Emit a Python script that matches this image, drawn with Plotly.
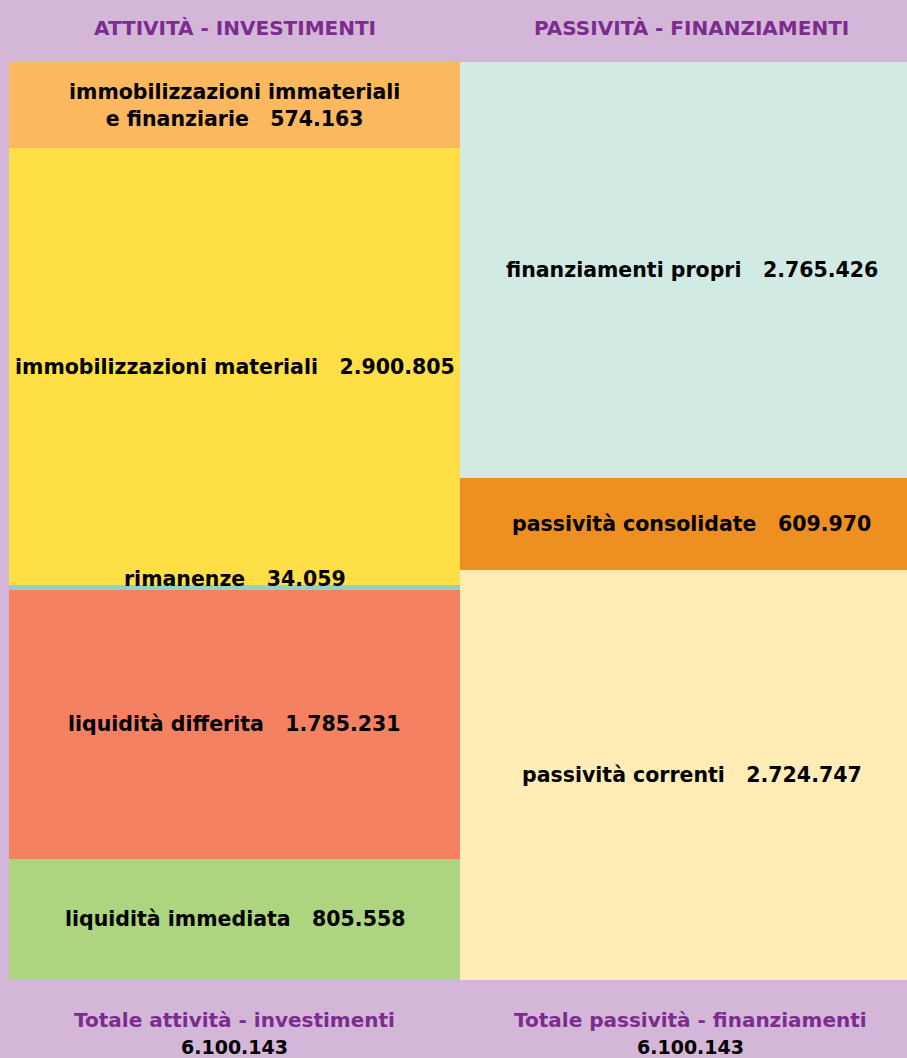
import plotly.graph_objects as go

# Stato patrimoniale riclassificato: attività (impieghi) vs passività (fonti)
sides = ["Attività", "Passività"]

attivita_labels = [
    "immobilizzazioni immateriali<br>e finanziarie",
    "immobilizzazioni materiali",
    "rimanenze",
    "liquidità differita",
    "liquidità immediata",
]
attivita_values = [574163, 2900805, 34059, 1785231, 805558]
attivita_colors = ["#FBB85E", "#FFDF45", "#8DD3C7", "#F48161", "#ADD47E"]

passivita_labels = [
    "finanziamenti propri",
    "passività consolidate",
    "passività correnti",
]
passivita_values = [2765426, 609970, 2724747]
passivita_colors = ["#D1EBE4", "#EE8F21", "#FFEDB5"]

totale_attivita = 6100143
totale_passivita = 6100143

BG = "#D4B6D8"
PURPLE = "#7B2C8E"
FONT = "DejaVu Sans"
W, H = 907, 1058
TOP, BOTTOM, LEFT = 62, 980, 9


def fmt(n):
    return f"{n:,}".replace(",", ".")


def py(px):
    """pixel row -> paper y"""
    return (BOTTOM - px) / (BOTTOM - TOP)


def px_x(px):
    """pixel column -> paper x"""
    return (px - LEFT) / (W - LEFT)


fig = go.Figure()
annotations = []
sep = "\u00a0" * 3

for side, labels, values, colors, shift in [
    (sides[0], attivita_labels, attivita_values, attivita_colors, 0),
    (sides[1], passivita_labels, passivita_values, passivita_colors, 6),
]:
    running = 0
    for label, value, color in zip(labels, values, colors):
        fig.add_trace(go.Bar(
            x=[side], y=[value], name=label.replace("<br>", " "),
            marker=dict(color=color, line=dict(width=0)),
            hoverinfo="skip", showlegend=False,
        ))
        mid = running + value / 2
        running += value
        annotations.append(dict(
            x=side, y=mid, xref="x", yref="y", showarrow=False,
            text=f"<b>{label}{sep}{fmt(value)}</b>",
            font=dict(family=FONT, size=20.5, color="#000000"),
            xshift=shift, yshift=9 if label == "rimanenze" else 0,
        ))

# intestazioni
for txt, x in [("ATTIVITÀ - INVESTIMENTI", 235), ("PASSIVITÀ - FINANZIAMENTI", 691)]:
    annotations.append(dict(
        x=px_x(x), y=py(28), xref="paper", yref="paper", showarrow=False,
        xanchor="center", yanchor="middle",
        text=f"<b>{txt}</b>", font=dict(family=FONT, size=20, color=PURPLE),
    ))

# totali
for txt, tot, x in [("Totale attività - investimenti", totale_attivita, 234),
                    ("Totale passività - finanziamenti", totale_passivita, 690)]:
    annotations.append(dict(
        x=px_x(x), y=py(1020), xref="paper", yref="paper", showarrow=False,
        xanchor="center", yanchor="middle",
        text=f"<b>{txt}</b>", font=dict(family=FONT, size=20, color=PURPLE),
    ))
    annotations.append(dict(
        x=px_x(x), y=py(1047), xref="paper", yref="paper", showarrow=False,
        xanchor="center", yanchor="middle",
        text=f"<b>{fmt(tot)}</b>", font=dict(family=FONT, size=19, color="#000000"),
    ))

total = max(sum(attivita_values), sum(passivita_values))
fig.update_layout(
    width=W, height=H,
    barmode="stack", bargap=0,
    paper_bgcolor=BG, plot_bgcolor=BG,
    margin=dict(l=LEFT, r=0, t=TOP, b=H - BOTTOM),
    annotations=annotations,
    xaxis=dict(visible=False, range=[-0.5, 1.49], fixedrange=True),
    yaxis=dict(visible=False, range=[total, 0], fixedrange=True),
)

fig.write_html(
    "out.html",
    config={"displayModeBar": False},
    post_script="document.body.style.margin='0';document.body.style.overflow='hidden';",
)
